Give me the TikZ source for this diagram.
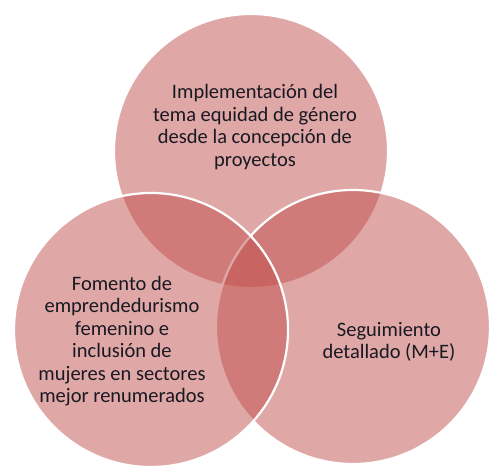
\documentclass[tikz,border=0pt]{standalone}
\usepackage{fontspec}
\setmainfont{Carlito}
\usepackage{tikz}
\usetikzlibrary{shapes.geometric}
\definecolor{vennred}{RGB}{192,80,77}
\definecolor{venntext}{RGB}{25,25,35}
\tikzstyle{venn} = [circle, minimum size=274pt, inner sep=0pt, fill=vennred, fill opacity=0.5, draw=white, line width=2.2pt]
\tikzstyle{lbl} = [align=center, text=venntext, font=\fontsize{20.5}{22.5}\selectfont]

\begin{document}
\begin{tikzpicture}[x=1pt, y=-1pt]
		\useasboundingbox (0,0) rectangle (490,468);
		% circles, back to front
		\node (ctop) [venn] at (251,151) {};
		\node (cright) [venn] at (353,327) {};
		\node (cleft) [venn] at (151,330) {};
		% labels
		\node (impl) [lbl] at (255,127) {Implementación del\\tema equidad de género\\desde la concepción de\\proyectos};
		\node (fomento) [lbl] at (122,341) {Fomento de\\emprendedurismo\\femenino e\\inclusión de\\mujeres en sectores\\mejor renumerados};
		\node (segui) [lbl] at (389,342) {Seguimiento\\detallado (M+E)};
\end{tikzpicture}
\end{document}
